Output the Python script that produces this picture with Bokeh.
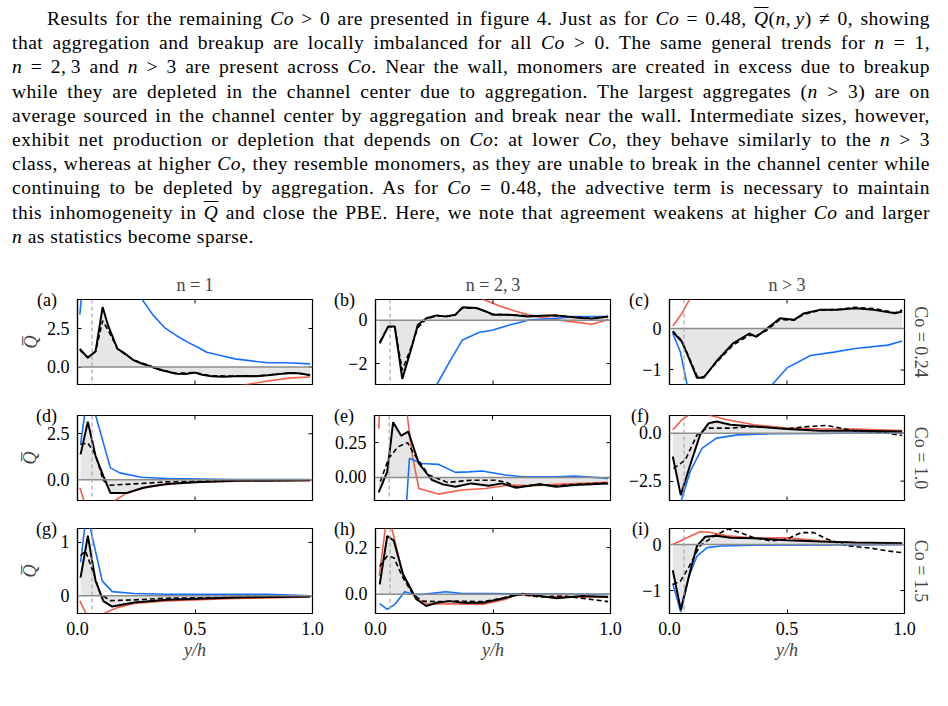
import math

from bokeh.embed import file_html
from bokeh.layouts import column, row
from bokeh.models import Div, FixedTicker, LinearAxis, Range1d, Span
from bokeh.plotting import figure
from bokeh.resources import INLINE

SERIF = "Liberation Serif"
BLUE = "#1670ff"
RED = "#f45d48"
FILL = "#e6e6e6"

# ---------------------------------------------------------------- paragraph
OVER_Q = '<span style="text-decoration:overline"><i>Q</i></span>'
PARAGRAPH_LINES = [
    "Results for the remaining <i>Co</i> &gt; 0 are presented in figure 4. Just as for <i>Co</i> = 0.48, "
    + OVER_Q + "(<i>n</i>,&thinsp;<i>y</i>) &ne; 0, showing",
    "that aggregation and breakup are locally imbalanced for all <i>Co</i> &gt; 0. The same general trends for <i>n</i> = 1,",
    "<i>n</i> = 2,&thinsp;3 and <i>n</i> &gt; 3 are present across <i>Co</i>. Near the wall, monomers are created in excess due to breakup",
    "while they are depleted in the channel center due to aggregation. The largest aggregates (<i>n</i> &gt; 3) are on",
    "average sourced in the channel center by aggregation and break near the wall. Intermediate sizes, however,",
    "exhibit net production or depletion that depends on <i>Co</i>: at lower <i>Co</i>, they behave similarly to the <i>n</i> &gt; 3",
    "class, whereas at higher <i>Co</i>, they resemble monomers, as they are unable to break in the channel center while",
    "continuing to be depleted by aggregation. As for <i>Co</i> = 0.48, the advective term is necessary to maintain",
    "this inhomogeneity in " + OVER_Q + " and close the PBE. Here, we note that agreement weakens at higher <i>Co</i> and larger",
    "<i>n</i> as statistics become sparse.",
]

# ---------------------------------------------------------------- figure data
# each series: (y/h, Q) pairs; solid = computed Q, dashed = reconstructed,
# blue / red = the two source terms
A_SOLID = [(0.01, 1.18), (0.044, 0.6), (0.077, 1.03), (0.107, 3.89), (0.13, 2.7), (0.17, 1.18), (0.20, 0.9),
           (0.24, 0.43), (0.27, 0.25), (0.30, 0.1), (0.35, -0.17), (0.39, -0.32), (0.42, -0.43), (0.46, -0.45),
           (0.50, -0.36), (0.53, -0.5), (0.57, -0.6), (0.62, -0.62), (0.67, -0.6), (0.72, -0.58), (0.76, -0.6),
           (0.81, -0.53), (0.86, -0.45), (0.91, -0.38), (0.95, -0.42), (0.99, -0.53)]
A_DASHED = [(0.01, 1.1), (0.044, 0.65), (0.077, 1.0), (0.107, 3.0), (0.13, 2.4), (0.17, 1.2), (0.20, 0.85),
            (0.24, 0.45), (0.30, 0.12), (0.35, -0.15), (0.42, -0.4), (0.50, -0.36), (0.57, -0.57), (0.67, -0.58),
            (0.76, -0.58), (0.86, -0.45), (0.91, -0.36), (0.99, -0.5)]
A_BLUE = [(0.01, 3.4), (0.025, 6.0), (0.05, 10.0), (0.1, 12.0), (0.2, 7.0), (0.275, 4.38), (0.32, 3.4),
          (0.37, 2.56), (0.42, 2.05), (0.47, 1.6), (0.51, 1.3), (0.55, 0.96), (0.60, 0.78), (0.67, 0.53),
          (0.74, 0.4), (0.81, 0.28), (0.89, 0.28), (0.99, 0.21)]
A_RED = [(0.01, -8.0), (0.1, -6.0), (0.3, -3.0), (0.5, -1.8), (0.62, -1.4), (0.72, -1.13), (0.81, -0.9),
         (0.91, -0.7), (0.99, -0.64)]

B_SOLID = [(0.018, -1.07), (0.054, -0.29), (0.082, -0.29), (0.114, -2.7), (0.15, -1.4), (0.18, -0.22),
           (0.216, 0.09), (0.26, 0.22), (0.30, 0.17), (0.34, 0.25), (0.37, 0.59), (0.43, 0.56), (0.47, 0.4),
           (0.50, 0.25), (0.57, 0.25), (0.65, 0.17), (0.70, 0.2), (0.77, 0.22), (0.85, 0.12), (0.92, 0.06),
           (0.99, 0.17)]
B_DASHED = [(0.018, -1.0), (0.054, -0.3), (0.082, -0.35), (0.114, -2.3), (0.15, -1.3), (0.18, -0.35),
            (0.216, 0.05), (0.26, 0.2), (0.30, 0.18), (0.34, 0.25), (0.37, 0.55), (0.43, 0.55), (0.50, 0.27),
            (0.57, 0.25), (0.65, 0.2), (0.77, 0.2), (0.85, 0.15), (0.92, 0.08), (0.99, 0.15)]
B_BLUE = [(0.01, -12.0), (0.1, -9.0), (0.2, -5.0), (0.26, -2.98), (0.315, -1.92), (0.37, -0.91), (0.44, -0.57),
          (0.50, -0.45), (0.57, -0.22), (0.65, 0.0), (0.77, 0.09), (0.85, 0.17), (0.99, 0.17)]
B_RED = [(0.01, 8.0), (0.2, 4.0), (0.40, 1.4), (0.46, 0.95), (0.53, 0.64), (0.60, 0.40), (0.68, 0.17),
         (0.77, 0.02), (0.85, -0.09), (0.92, -0.19), (0.99, 0.02)]

C_SOLID = [(0.014, -0.08), (0.053, -0.32), (0.085, -0.75), (0.117, -1.19), (0.145, -1.19), (0.20, -0.79),
           (0.27, -0.36), (0.34, -0.12), (0.37, -0.2), (0.415, 0.0), (0.47, 0.25), (0.53, 0.21), (0.57, 0.36),
           (0.64, 0.45), (0.715, 0.45), (0.79, 0.49), (0.87, 0.45), (0.96, 0.37), (0.99, 0.41)]
C_DASHED = [(0.014, -0.06), (0.053, -0.3), (0.085, -0.72), (0.117, -1.15), (0.145, -1.17), (0.20, -0.82),
            (0.27, -0.4), (0.34, -0.16), (0.37, -0.17), (0.415, -0.04), (0.47, 0.22), (0.53, 0.2), (0.57, 0.34),
            (0.64, 0.44), (0.715, 0.46), (0.79, 0.51), (0.87, 0.48), (0.96, 0.38), (0.99, 0.45)]
C_BLUE = [(0.014, -0.12), (0.046, -0.56), (0.074, -1.33), (0.1, -2.5), (0.2, -4.0), (0.35, -2.5), (0.44, -1.33),
          (0.50, -0.95), (0.60, -0.65), (0.70, -0.57), (0.79, -0.48), (0.93, -0.40), (0.99, -0.30)]
C_RED = [(0.014, 0.06), (0.053, 0.36), (0.08, 0.65), (0.10, 0.9)]

D_SOLID = [(0.013, 1.38), (0.044, 3.15), (0.077, 1.29), (0.11, 0.2), (0.14, -0.71), (0.21, -0.71),
           (0.28, -0.43), (0.38, -0.22), (0.52, -0.11), (0.67, -0.05), (0.99, -0.02)]
D_DASHED = [(0.013, 1.92), (0.044, 2.0), (0.077, 1.35), (0.11, -0.04), (0.14, -0.29), (0.24, -0.22),
            (0.38, -0.11), (0.67, -0.04), (0.99, -0.02)]
D_BLUE = [(0.013, 1.92), (0.03, 3.5), (0.04, 5.0), (0.06, 5.0), (0.077, 3.5), (0.14, 0.65), (0.18, 0.38),
          (0.27, 0.14), (0.38, 0.07), (0.67, 0.02), (0.99, 0.02)]
D_RED = [(0.01, -0.43), (0.027, -1.12), (0.05, -2.0), (0.1, -2.0), (0.16, -1.12), (0.21, -0.71), (0.31, -0.34),
         (0.45, -0.16), (0.67, -0.07), (0.99, -0.04)]

E_SOLID = [(0.018, -0.108), (0.054, 0.041), (0.079, 0.397), (0.113, 0.30), (0.143, 0.329), (0.188, 0.10),
           (0.244, -0.019), (0.29, -0.05), (0.343, -0.067), (0.41, -0.043), (0.484, -0.06), (0.54, -0.043),
           (0.60, -0.075), (0.70, -0.05), (0.77, -0.067), (0.85, -0.055), (0.99, -0.043)]
E_DASHED = [(0.025, -0.03), (0.06, 0.137), (0.10, 0.22), (0.14, 0.25), (0.17, 0.16), (0.23, 0.017),
            (0.31, -0.036), (0.41, -0.02), (0.51, -0.02), (0.56, -0.036), (0.60, -0.07), (0.70, -0.05),
            (0.77, -0.062), (0.85, -0.05), (0.99, -0.04)]
E_BLUE = [(0.12, -0.6), (0.148, 0.137), (0.20, 0.10), (0.27, 0.094), (0.343, 0.036), (0.40, 0.04),
          (0.456, 0.046), (0.555, 0.017), (0.625, 0.005), (0.77, 0.005), (0.85, 0.01), (0.99, -0.007)]
E_RED = [(0.018, 0.35), (0.03, 0.8), (0.1, 1.2), (0.12, 0.7), (0.16, 0.16), (0.188, -0.08), (0.27, -0.12),
         (0.37, -0.09), (0.47, -0.08), (0.57, -0.055), (0.68, -0.06), (0.77, -0.05), (0.99, -0.036)]

F_SOLID = [(0.014, -1.22), (0.048, -3.23), (0.088, -1.66), (0.13, -0.09), (0.167, 0.52), (0.20, 0.61),
           (0.26, 0.44), (0.36, 0.35), (0.50, 0.21), (0.64, 0.12), (0.79, 0.12), (0.99, 0.09)]
F_DASHED = [(0.017, -1.84), (0.067, -1.4), (0.117, -0.09), (0.16, 0.26), (0.26, 0.26), (0.36, 0.35),
            (0.50, 0.23), (0.59, 0.35), (0.67, 0.4), (0.79, 0.12), (0.90, 0.05), (0.99, -0.12)]
F_BLUE = [(0.014, -5.0), (0.048, -3.6), (0.088, -2.0), (0.138, -0.79), (0.20, -0.26), (0.29, -0.09),
          (0.43, -0.035), (0.64, -0.02), (0.99, 0.03)]
F_RED = [(0.014, 0.17), (0.053, 0.7), (0.08, 0.93), (0.12, 1.2), (0.17, 0.93), (0.245, 0.7), (0.36, 0.44),
         (0.50, 0.26), (0.64, 0.23), (0.79, 0.21), (0.99, 0.14)]

G_SOLID = [(0.013, 0.34), (0.044, 1.125), (0.077, 0.28), (0.11, -0.1), (0.148, -0.2), (0.24, -0.125),
           (0.38, -0.075), (0.67, -0.03), (0.99, -0.01)]
G_DASHED = [(0.013, 0.75), (0.034, 0.84), (0.062, 0.5), (0.098, 0.03), (0.14, -0.09), (0.24, -0.075),
            (0.38, -0.044), (0.99, -0.01)]
G_BLUE = [(0.013, 0.625), (0.03, 1.25), (0.04, 1.6), (0.05, 1.4), (0.055, 1.26), (0.105, 0.28),
          (0.148, 0.08), (0.24, 0.044), (0.38, 0.03), (0.81, 0.03), (0.99, 0.0)]
G_RED = [(0.01, -0.094), (0.034, -0.31), (0.06, -0.5), (0.10, -0.4), (0.12, -0.31), (0.17, -0.22),
         (0.24, -0.144), (0.38, -0.094), (0.67, -0.05), (0.99, -0.02)]

H_SOLID = [(0.018, 0.043), (0.05, 0.25), (0.078, 0.23), (0.117, 0.086), (0.174, -0.021), (0.216, -0.05),
           (0.26, -0.036), (0.315, -0.029), (0.37, -0.036), (0.456, -0.036), (0.527, -0.021), (0.626, 0.003),
           (0.70, -0.007), (0.77, -0.017), (0.88, -0.007), (0.99, -0.011)]
H_DASHED = [(0.018, 0.12), (0.05, 0.164), (0.078, 0.157), (0.117, 0.071), (0.16, 0.0), (0.20, -0.029),
            (0.26, -0.031), (0.343, -0.029), (0.456, -0.031), (0.527, -0.019), (0.60, 0.0), (0.70, -0.011),
            (0.80, -0.007), (0.99, -0.031)]
H_BLUE = [(0.018, -0.04), (0.05, -0.064), (0.082, -0.043), (0.124, 0.011), (0.16, 0.0), (0.20, 0.0),
          (0.30, 0.011), (0.37, 0.003), (0.50, 0.003), (0.99, 0.0)]
H_RED = [(0.016, 0.079), (0.04, 0.27), (0.055, 0.32), (0.07, 0.28), (0.117, 0.086), (0.174, -0.021),
         (0.23, -0.043), (0.31, -0.04), (0.456, -0.043), (0.555, -0.021), (0.60, 0.0), (0.70, -0.009),
         (0.80, -0.01), (0.99, -0.012)]

I_SOLID = [(0.014, -0.56), (0.048, -1.42), (0.088, -0.58), (0.117, -0.03), (0.152, 0.17), (0.20, 0.19),
           (0.26, 0.15), (0.36, 0.14), (0.50, 0.095), (0.64, 0.066), (0.79, 0.044), (0.99, 0.03)]
I_DASHED = [(0.014, -0.87), (0.046, -0.8), (0.081, -0.5), (0.13, -0.03), (0.19, 0.19), (0.25, 0.34),
            (0.30, 0.26), (0.36, 0.15), (0.43, 0.08), (0.50, 0.12), (0.56, 0.26), (0.615, 0.26), (0.67, 0.12),
            (0.76, -0.03), (0.86, -0.08), (0.93, -0.14), (0.99, -0.175)]
I_BLUE = [(0.014, -0.85), (0.048, -1.47), (0.081, -0.72), (0.117, -0.25), (0.16, -0.066), (0.217, -0.03),
          (0.36, -0.015), (0.99, 0.0)]
I_RED = [(0.014, 0.0), (0.074, 0.15), (0.13, 0.28), (0.17, 0.27), (0.245, 0.19), (0.36, 0.14), (0.50, 0.15),
         (0.64, 0.08), (0.79, 0.04), (0.99, 0.03)]

PANEL_SERIES = [
    (A_SOLID, A_DASHED, A_BLUE, A_RED), (B_SOLID, B_DASHED, B_BLUE, B_RED), (C_SOLID, C_DASHED, C_BLUE, C_RED),
    (D_SOLID, D_DASHED, D_BLUE, D_RED), (E_SOLID, E_DASHED, E_BLUE, E_RED), (F_SOLID, F_DASHED, F_BLUE, F_RED),
    (G_SOLID, G_DASHED, G_BLUE, G_RED), (H_SOLID, H_DASHED, H_BLUE, H_RED), (I_SOLID, I_DASHED, I_BLUE, I_RED),
]
PANEL_LETTERS = ["(a)", "(b)", "(c)", "(d)", "(e)", "(f)", "(g)", "(h)", "(i)"]
Y_LIMITS = [(-1.13, 4.38), (-2.96, 0.95), (-1.35, 0.70),
            (-1.12, 3.49), (-0.166, 0.445), (-3.51, 0.92),
            (-0.33, 1.26), (-0.082, 0.282), (-1.50, 0.35)]
Y_TICKS = [[0, 2.5], [-2, 0], [-1, 0], [0, 2.5], [0, 0.25], [-2.5, 0], [0, 1], [0, 0.2], [-1, 0]]
Y_TICK_LABELS = [["0.0", "2.5"], ["\u22122", "0"], ["\u22121", "0"], ["0.0", "2.5"], ["0.00", "0.25"],
                 ["\u22122.5", "0.0"], ["0", "1"], ["0.0", "0.2"], ["\u22121", "0"]]
X_TICKS = [0, 0.5, 1]
X_TICK_LABELS = ["0.0", "0.5", "1.0"]
COLUMN_TITLES = ["n = 1", "n = 2,\u20093", "n > 3"]
ROW_LABELS = ["Co = 0.24", "Co = 1.0", "Co = 1.5"]
WALL_Y = 0.062

# ---------------------------------------------------------------- geometry
COL_W = [330, 292, 326]
COL_BL = [77, 44, 47]
COL_BR = [18, 12, 44]
ROW_H = [135, 115, 196]
ROW_BT = [40, 21, 19]
ROW_BB = [10, 9, 92]
FONT = "18px"
LETTER_PAD = "\u00a0\u00a0\u2009"   # keeps the panel letter clear of the frame


def style_axis(ax):
    ax.major_tick_in = 4
    ax.major_tick_out = 0
    ax.minor_tick_line_color = None
    ax.major_tick_line_color = "black"
    ax.major_tick_line_width = 1
    ax.axis_line_color = "black"
    ax.axis_line_width = 1.2
    ax.major_label_text_font = SERIF
    ax.major_label_text_color = "black"
    ax.major_label_text_font_size = FONT
    ax.major_label_standoff = 8


def make_panel(k):
    r, c = divmod(k, 3)
    ylo, yhi = Y_LIMITS[k]
    p = figure(width=COL_W[c], height=ROW_H[r], x_range=Range1d(0, 1), y_range=Range1d(ylo, yhi),
               output_backend="svg", toolbar_location=None,
               title=COLUMN_TITLES[c] if r == 0 else None,
               min_border_left=COL_BL[c], min_border_right=COL_BR[c],
               min_border_top=ROW_BT[r], min_border_bottom=ROW_BB[r])
    p.grid.visible = False
    p.outline_line_color = "black"
    p.outline_line_width = 1.2
    p.background_fill_color = "white"
    p.border_fill_color = "white"
    if r == 0:
        p.title.align = "center"
        p.title.text_font = SERIF
        p.title.text_font_size = FONT
        p.title.text_font_style = "normal"
        p.title.standoff = 9

    solid, dashed, blue, red = PANEL_SERIES[k]
    sx, sq = zip(*solid)
    p.varea(x=list(sx), y1=0, y2=list(sq), fill_color=FILL)
    p.add_layout(Span(location=0, dimension="width", line_color="#8c8c8c", line_width=1.5))
    p.add_layout(Span(location=WALL_Y, dimension="height", line_color="#a6a6a6", line_width=1.2,
                      line_dash="4 3"))
    for series, color in ((red, RED), (blue, BLUE)):
        xs, qs = zip(*series)
        p.line(list(xs), list(qs), line_color=color, line_width=1.6)
    dx, dq = zip(*dashed)
    p.line(list(dx), list(dq), line_color="black", line_width=1.6, line_dash="5 3")
    p.line(list(sx), list(sq), line_color="black", line_width=2.0)

    # inward tick marks mirrored on the top and right edges (half of each
    # dash falls outside the frame and is clipped away)
    edge_x = X_TICKS if r == 2 else X_TICKS + X_TICKS
    edge_y = [yhi] * len(X_TICKS) + ([] if r == 2 else [ylo] * len(X_TICKS))
    p.scatter(edge_x, edge_y, marker="dash", size=8, angle=math.pi / 2, line_color="black", line_width=1)
    p.scatter([1] * len(Y_TICKS[k]), Y_TICKS[k], marker="dash", size=8, line_color="black", line_width=1)

    xa, ya = p.xaxis[0], p.yaxis[0]
    style_axis(ya)
    # the panel letter sits level with the top edge of the frame
    ya.ticker = FixedTicker(ticks=Y_TICKS[k] + [yhi])
    overrides = dict(zip(Y_TICKS[k], Y_TICK_LABELS[k]))
    overrides[yhi] = PANEL_LETTERS[k] + LETTER_PAD
    ya.major_label_overrides = overrides
    if r == 2:
        style_axis(xa)
        xa.ticker = FixedTicker(ticks=X_TICKS)
        xa.major_label_overrides = dict(zip(X_TICKS, X_TICK_LABELS))
        xa.axis_label = "y/h"
        xa.axis_label_text_font = SERIF
        xa.axis_label_text_font_size = FONT
        xa.axis_label_text_font_style = "italic"
        xa.axis_label_standoff = 2
    else:
        xa.visible = False
    if c == 0:
        ya.axis_label = "Q\u0305"
        ya.axis_label_text_font = SERIF
        ya.axis_label_text_font_size = FONT
        ya.axis_label_text_font_style = "italic"
        ya.axis_label_standoff = -7
    if c == 2:
        side = LinearAxis(ticker=FixedTicker(ticks=[]), axis_line_color=None, major_tick_line_color=None,
                          minor_tick_line_color=None, major_label_standoff=0,
                          axis_label=ROW_LABELS[r], axis_label_text_font=SERIF,
                          axis_label_text_font_size=FONT, axis_label_text_font_style="normal",
                          axis_label_standoff=6)
        p.add_layout(side, "right")
    return p


line_divs = []
for i, txt in enumerate(PARAGRAPH_LINES):
    last = i == len(PARAGRAPH_LINES) - 1
    indent = "text-indent:35px;" if i == 0 else ""
    align_last = "left" if last else "justify"
    line_divs.append(f'<div style="text-align:justify;text-align-last:{align_last};{indent}">{txt}</div>')
paragraph = Div(
    text=('<div style="padding:2px 8px 0 7px;width:933px;font-family:\'Liberation Serif\',serif;'
          'font-size:19.5px;line-height:24.2px;letter-spacing:0.5px;color:#000;">'
          + "".join(line_divs) + "</div>"),
    width=948, height=249)

panels = [make_panel(k) for k in range(9)]
rows = [row(panels[3 * r:3 * r + 3], spacing=0) for r in range(3)]
page = column([paragraph] + rows, spacing=0)

open("out.html", "w").write(file_html(page, INLINE))
